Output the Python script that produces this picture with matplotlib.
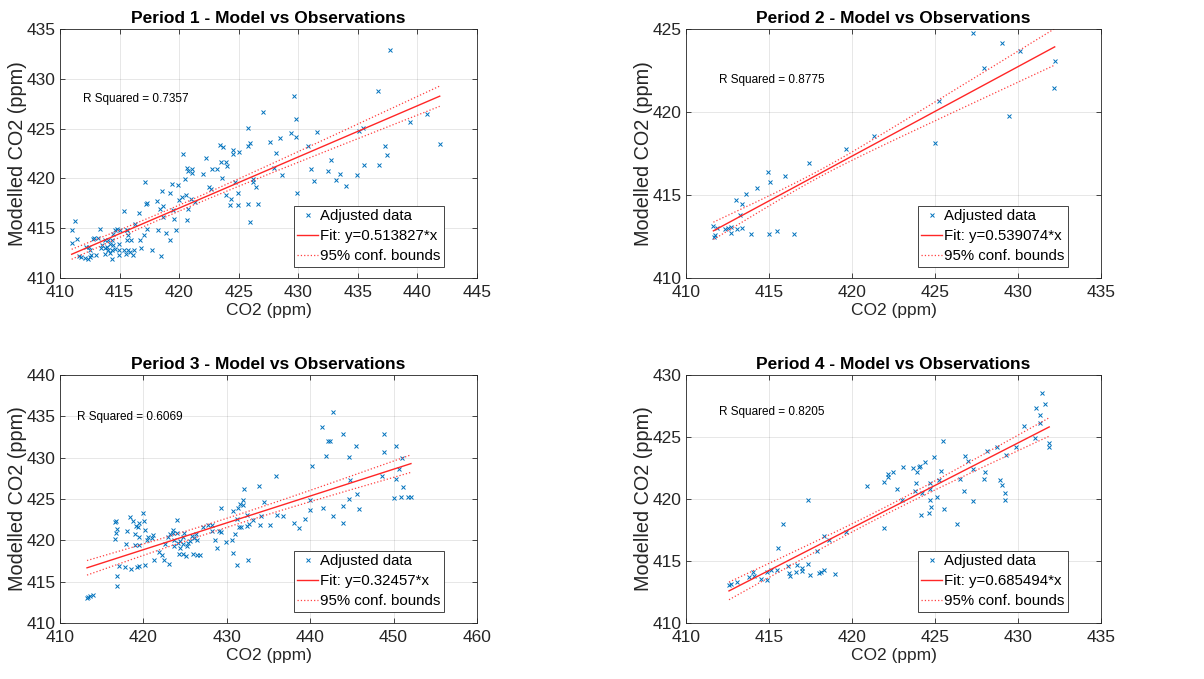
import numpy as np
import matplotlib
matplotlib.use('Agg')
import matplotlib.pyplot as plt

plt.rcParams['font.family'] = ['Liberation Sans', 'DejaVu Sans']

# ---- data ----
p1_x = [437.72, 436.69, 429.66, 427.05, 429.80, 440.80, 439.40, 435.40, 435.06, 431.56,
        429.38, 429.85, 428.50, 427.60, 430.78, 437.25, 441.87, 428.12, 437.42, 432.77,
        436.77, 435.54, 431.03, 432.46, 433.52, 434.95, 428.65, 431.28, 433.13, 433.97,
        429.91, 427.92,
        425.82, 425.93, 425.82, 423.39, 423.64, 424.48, 424.48, 425.01, 423.53, 423.97,
        424.03, 422.29, 420.36, 422.04, 422.77, 423.20, 420.70, 420.78, 421.12, 421.12,
        420.45, 423.61, 424.73, 422.49, 422.69, 426.16, 426.16, 426.47, 423.97, 424.39,
        424.95, 424.31, 424.95, 425.82, 426.58, 425.93, 420.56, 420.22, 419.97, 421.00,
        421.31, 420.78, 420.64, 419.41, 419.89, 417.14, 418.60, 419.24, 418.18, 417.28,
        417.22, 418.68, 418.37, 419.47, 418.65, 419.58, 415.40, 416.61, 419.74, 418.90,
        418.23, 419.24, 417.34, 417.08, 416.30, 415.60, 417.73, 418.46, 416.80,
        410.98, 411.23, 410.98, 411.46, 411.62, 411.74, 412.13, 412.35, 412.52, 412.58,
        412.18, 412.46, 412.80, 412.88, 413.36, 413.22, 412.99, 413.42, 413.81, 413.78,
        413.98, 414.06, 414.20, 414.34, 414.48, 414.62, 414.82, 415.04, 413.78, 414.00,
        414.20, 414.40, 414.40, 414.62, 414.96, 414.98, 414.96, 415.40, 415.54, 415.74,
        415.88, 415.60, 415.74, 415.96, 415.65, 416.22, 416.10, 416.72, 414.48, 413.50,
        412.52]
p1_y = [432.85, 428.79, 428.32, 426.64, 425.94, 426.51, 425.64, 425.10, 424.77, 424.70,
        424.60, 424.19, 424.09, 423.69, 423.29, 423.29, 423.46, 422.58, 422.32, 421.81,
        421.38, 421.34, 420.91, 420.77, 420.40, 420.34, 420.34, 419.70, 419.80, 419.26,
        418.52, 421.04,
        425.03, 423.59, 423.26, 423.39, 423.12, 422.85, 422.42, 422.65, 421.68, 421.61,
        421.24, 422.05, 422.48, 420.47, 420.91, 420.94, 421.07, 420.77, 420.94, 420.57,
        419.93, 420.00, 419.66, 419.09, 418.96, 419.97, 419.60, 419.09, 418.32, 417.92,
        418.49, 417.32, 417.32, 417.38, 417.38, 415.67, 418.29, 418.15, 417.82, 417.92,
        417.65, 416.95, 415.81, 419.40, 419.36, 419.60, 418.72, 418.49, 417.72, 417.55,
        417.42, 417.21, 416.95, 416.81, 416.14, 415.91, 416.74, 416.48, 414.80, 414.53,
        414.80, 413.86, 414.87, 414.36, 415.40, 414.80, 412.85, 412.18, 413.02,
        414.80, 415.70, 413.56, 413.93, 412.18, 412.11, 412.01, 411.95, 412.08, 412.28,
        413.12, 413.12, 413.89, 414.03, 414.90, 414.03, 412.28, 413.02, 413.02, 413.79,
        413.12, 413.86, 413.46, 413.79, 414.46, 414.80, 414.93, 414.80, 412.45, 412.79,
        412.55, 412.85, 411.95, 412.95, 412.79, 413.46, 412.28, 412.79, 412.45, 412.79,
        412.62, 413.79, 414.30, 413.79, 414.80, 412.79, 412.28, 413.86, 413.29, 413.29,
        412.79]

p2_x = [427.28, 429.01, 430.10, 427.93, 432.21, 432.19, 429.43, 425.27, 425.01, 421.33,
        419.63, 417.40, 414.94, 415.95, 415.04, 414.26, 413.62, 413.03, 413.36, 413.26,
        413.36, 413.05, 412.71, 412.51, 412.37, 411.85, 411.65, 411.75, 411.69, 412.71,
        413.90, 414.98, 415.47, 416.51]
p2_y = [424.76, 424.15, 423.65, 422.68, 423.09, 421.46, 419.78, 420.65, 418.11, 418.58,
        417.75, 416.95, 416.40, 416.14, 415.78, 415.44, 415.09, 414.69, 414.43, 413.78,
        413.02, 412.96, 413.08, 413.02, 412.98, 413.02, 413.14, 412.58, 412.44, 412.72,
        412.66, 412.66, 412.84, 412.66]

p3_x = [442.72, 441.40, 443.92, 448.80, 442.08, 442.40, 445.52, 450.32, 441.84, 444.60,
        448.88, 451.00, 440.24, 450.60, 448.60, 450.32, 444.80, 435.92, 433.84, 432.12,
        451.12, 445.60, 450.00, 450.88, 451.68, 452.08, 444.60, 439.92, 434.52, 431.64,
        432.00, 431.96, 429.28, 430.72, 431.40, 443.92, 445.84, 441.52, 439.92, 432.48,
        436.00, 436.72, 442.72, 434.16, 439.36, 433.12, 431.24, 438.00, 443.92, 433.96,
        435.12, 432.64, 432.40, 431.44, 431.68, 438.64, 427.12, 427.80, 428.24, 428.24,
        429.12, 429.36, 431.04, 428.64, 429.96, 430.60, 428.80, 430.80, 431.20, 432.52,
        426.28, 426.12, 425.80, 426.40, 425.60, 425.40, 425.20, 424.80, 424.40, 424.72,
        424.20, 423.72, 423.52, 423.20, 424.08, 424.92, 424.08, 423.60, 423.00, 422.60,
        423.68, 424.40, 424.28, 424.72, 425.12, 425.92, 426.40, 426.80, 421.92, 422.28,
        422.52, 423.12, 421.28, 420.20, 421.00, 420.40, 420.60, 421.20, 420.20, 420.12,
        419.92, 419.44, 419.40, 419.12, 419.00, 419.52, 418.96, 419.52, 418.40, 418.80,
        418.00, 417.92, 416.64, 416.72, 416.80, 416.72, 416.64, 417.04, 417.84, 418.48,
        419.20, 419.44, 416.88, 416.88, 413.36, 413.60, 413.92, 413.24]
p3_y = [435.57, 433.76, 432.83, 432.83, 432.02, 432.02, 431.47, 431.39, 430.22, 430.14,
        430.70, 430.02, 429.05, 428.65, 427.84, 427.44, 427.32, 427.84, 426.63, 426.23,
        426.43, 425.59, 425.18, 425.22, 425.22, 425.22, 424.98, 424.90, 424.58, 424.42,
        424.90, 424.26, 423.97, 423.49, 423.89, 424.10, 423.81, 423.89, 423.69, 423.09,
        423.09, 423.00, 423.00, 422.89, 422.57, 422.48, 422.57, 422.08, 422.04, 421.88,
        421.88, 421.92, 421.68, 421.60, 421.60, 421.44, 421.56, 421.80, 421.80, 421.08,
        421.12, 421.00, 420.75, 419.99, 419.83, 419.99, 419.06, 418.50, 416.97, 417.57,
        420.79, 420.27, 420.47, 419.99, 419.95, 419.67, 419.26, 420.39, 419.91, 419.59,
        419.67, 420.07, 420.88, 420.75, 420.88, 420.92, 422.45, 421.28, 420.39, 419.59,
        419.35, 419.06, 418.38, 418.38, 418.05, 418.33, 418.25, 418.17, 418.58, 418.17,
        417.65, 417.17, 417.65, 417.05, 420.27, 420.07, 420.39, 420.59, 421.28, 422.28,
        423.29, 422.08, 421.56, 421.68, 420.79, 420.35, 419.38, 419.38, 422.77, 422.28,
        421.08, 419.59, 422.20, 422.28, 421.40, 420.87, 420.19, 416.85, 416.77, 416.56,
        416.77, 416.85, 415.64, 414.51, 413.14, 413.22, 413.34, 413.06]

p4_x = [431.44, 431.60, 431.06, 431.34, 431.34, 430.34, 431.04, 431.84, 431.88, 429.88,
        428.73, 428.13, 429.30, 425.51, 426.78, 424.93, 424.41, 426.96, 424.07, 424.05,
        423.67, 423.06, 422.46, 422.14, 422.14, 421.90, 423.94, 425.35, 427.26, 428.02,
        427.96, 426.50, 425.25, 423.87, 424.67, 428.89, 429.03, 429.23, 429.23, 420.93,
        422.74, 423.80, 424.71, 424.20, 426.74, 425.10, 424.67, 423.02, 427.26, 424.77,
        425.57, 424.61, 424.17, 426.32, 421.94, 417.36, 415.87, 415.57, 418.32, 418.60,
        419.63, 417.88, 417.36, 416.17, 416.67, 416.97, 415.51, 417.00, 416.63, 416.23,
        416.29, 417.48, 418.01, 418.16, 418.32, 419.00, 415.14, 414.86, 414.86, 414.54,
        414.06, 414.10, 413.82, 413.05, 412.71, 412.59]
p4_y = [428.58, 427.66, 427.32, 426.78, 426.11, 425.92, 424.95, 424.50, 424.17, 424.23,
        424.17, 423.88, 423.56, 424.71, 423.50, 423.42, 423.02, 423.10, 422.67, 422.62,
        422.48, 422.56, 422.21, 422.03, 421.81, 421.41, 422.21, 422.27, 422.40, 422.21,
        421.62, 421.62, 421.57, 421.33, 421.33, 421.54, 421.09, 420.52, 419.93, 421.06,
        420.82, 420.68, 420.79, 420.52, 420.68, 420.15, 419.88, 419.88, 419.85, 419.32,
        419.18, 418.91, 418.70, 418.00, 417.68, 419.93, 418.00, 416.07, 416.98, 416.71,
        417.33, 415.77, 414.78, 414.56, 414.67, 414.43, 414.30, 414.17, 414.11, 414.03,
        413.76, 413.89, 414.03, 414.11, 414.24, 413.95, 414.24, 414.13, 413.44, 413.54,
        414.08, 413.76, 413.70, 413.28, 413.17, 413.03]

slopes = [0.513827, 0.539074, 0.32457, 0.685494]
intercepts = [201.21, 190.93, 282.55, 129.76]
r_squared = ['0.7357', '0.8775', '0.6069', '0.8205']
# confidence band: centre x, half-width at centre, growth
band_xm = [420.0, 418.0, 430.0, 422.0]
band_h0 = [0.30, 0.20, 0.55, 0.30]
band_k = [0.0444, 0.076, 0.041, 0.0686]

xlims = [(410, 445), (410, 435), (410, 460), (410, 435)]
ylims = [(410, 435), (410, 425), (410, 440), (410, 430)]
rsq_pos = [(411.96, 427.95), (411.99, 421.94), (412.0, 434.89), (411.99, 426.99)]

xs = [p1_x, p2_x, p3_x, p4_x]
ys = [p1_y, p2_y, p3_y, p4_y]

# axes positions in pixels (left, top, right, bottom) of a 1204x679 canvas
W, H = 1204, 679
boxes = [(60, 29, 477, 278), (686, 29, 1101, 278),
         (60, 375, 477, 623), (686, 375, 1101, 623)]

blue = (0.0, 0.447, 0.741)
dark = (0.15, 0.15, 0.15)

fig = plt.figure(figsize=(W / 100, H / 100), dpi=100)

for i in range(4):
    l, t, r, b = boxes[i]
    ax = fig.add_axes([l / W, 1 - b / H, (r - l) / W, (b - t) / H])

    x = np.array(xs[i])
    y = np.array(ys[i])
    ax.plot(x, y, 'x', color=blue, markersize=3.4, markeredgewidth=0.7, label='Adjusted data')

    xf = np.linspace(x.min(), x.max(), 200)
    yf = slopes[i] * xf + intercepts[i]
    hw = np.sqrt(band_h0[i] ** 2 + (band_k[i] * (xf - band_xm[i])) ** 2)
    ax.plot(xf, yf, '-', color=(1, 0.15, 0.15), lw=1.0,
            label='Fit: y=' + f'{slopes[i]:g}' + '*x')
    ax.plot(xf, yf + hw, ':', color=(1, 0.25, 0.25), lw=0.9, label='95% conf. bounds')
    ax.plot(xf, yf - hw, ':', color=(1, 0.25, 0.25), lw=0.9)

    ax.set_xlim(xlims[i])
    ax.set_ylim(ylims[i])
    ax.set_xticks(np.arange(xlims[i][0], xlims[i][1] + 1, 5 if i != 2 else 10))
    ax.set_yticks(np.arange(ylims[i][0], ylims[i][1] + 1, 5))

    ax.grid(True, color=(0.15, 0.15, 0.15), alpha=0.13, lw=0.6)
    ax.set_axisbelow(True)
    for s in ax.spines.values():
        s.set_color(dark)
        s.set_linewidth(0.6)
    ax.tick_params(direction='in', length=3.5, width=0.6, colors=dark,
                   top=True, right=True, labelsize=12.5)
    ax.tick_params(axis='x', pad=5)
    ax.tick_params(axis='y', pad=3)

    ax.set_title('Period %d - Model vs Observations' % (i + 1), fontsize=12.5,
                 fontweight='bold', pad=4)
    ax.set_xlabel('CO2 (ppm)', fontsize=12.5, color=dark, labelpad=2)
    ax.set_ylabel('Modelled CO2 (ppm)', fontsize=14.3, color=dark, labelpad=0)

    ax.text(rsq_pos[i][0], rsq_pos[i][1], 'R Squared = ' + r_squared[i],
            fontsize=8.5, va='center', ha='left')

    leg = ax.legend(loc='lower right', bbox_to_anchor=(1 - 33 / (r - l), 11 / (b - t)),
                    borderaxespad=0, fontsize=10.8, fancybox=False, framealpha=1,
                    edgecolor=dark, handlelength=1.4, handletextpad=0.1,
                    labelspacing=0.4, borderpad=0.25)
    leg.get_frame().set_linewidth(0.6)

plt.savefig('out.png', dpi=100)
